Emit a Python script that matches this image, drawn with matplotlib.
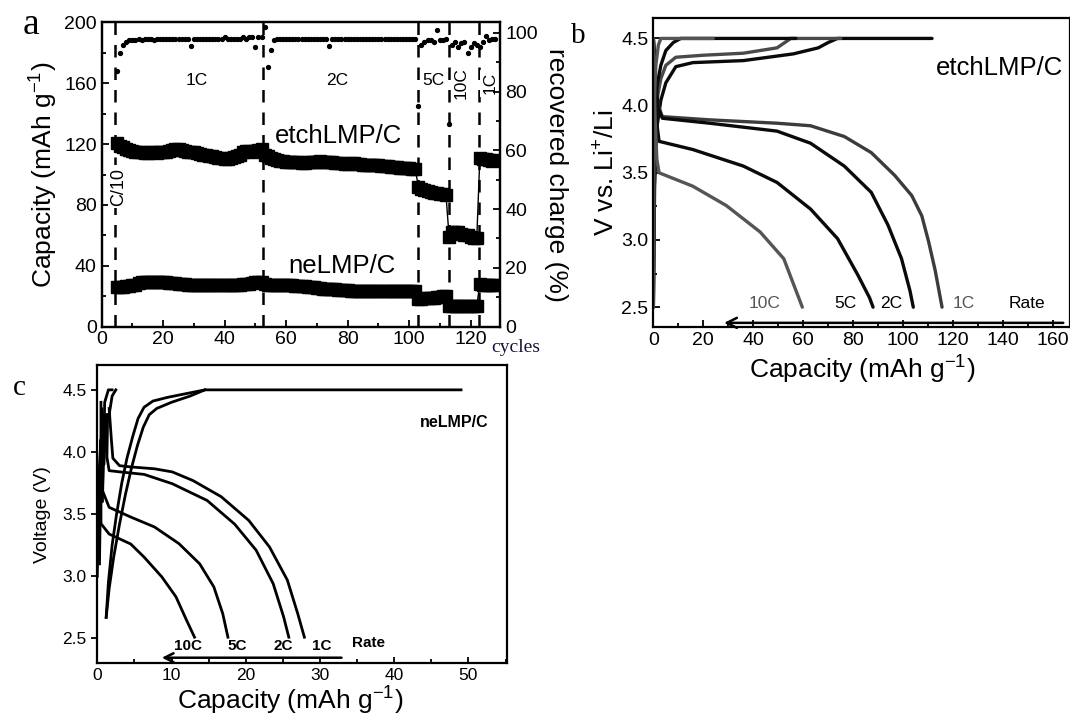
"""Rate capability of etchLMP/C vs neLMP/C: cycling (a) and charge/discharge curves (b, c)."""

import matplotlib

matplotlib.use("Agg")
import matplotlib.pyplot as plt
from matplotlib.ticker import MultipleLocator

plt.rcParams["font.family"] = ["Liberation Sans", "DejaVu Sans"]
plt.rcParams["mathtext.fontset"] = "custom"
plt.rcParams["mathtext.rm"] = "Liberation Sans"

# ---- panel a: capacity and recovered charge per cycle ----
cycles = list(range(5, 129))

etch_cap = [
    # 1C, cycles 5-52
    121, 119, 118, 117, 116, 115.5, 115, 114.5, 114.5, 114,
    114, 114.5, 114.5, 114, 114.5, 115, 115, 115.5, 116, 116.5,
    116.5, 116, 115.5, 115, 114.5, 114.5, 114, 113.5, 113, 113,
    112.5, 112, 111.5, 111, 111, 110.5, 110.5, 111, 111.5, 112,
    113, 114.5, 115.5, 115.5, 115, 115.5, 116, 116.5,
    # 2C, cycles 53-102
    113, 112, 111, 110, 109.5, 109, 109, 108.5, 108.5, 108,
    108, 108, 107.5, 107.5, 108, 108, 108.5, 108.5, 109, 108.5,
    108.5, 108, 108, 107.5, 107.5, 107.5, 107, 107, 107.5, 107.5,
    107, 107, 106.5, 106.5, 106.5, 106, 106, 106, 105.5, 105.5,
    105.5, 105, 105, 105, 104.5, 104.5, 104, 104, 103.5, 103.5,
    # 5C, cycles 103-112
    92, 90.5, 89.5, 89, 88.5, 88, 88, 87.5, 87, 86.5,
    # 10C, cycles 113-122
    59, 62, 62.5, 62, 61, 60.5, 60, 59, 58.5, 58,
    # 1C, cycles 123-128
    111, 110.5, 110, 109.5, 109, 109.5,
]

ne_cap = [
    26, 26, 26, 26.5, 26.5, 27, 27, 28.5, 29.5, 29.5,
    29.5, 29.5, 29, 29, 29, 29, 29, 28.5, 28.5, 28.5,
    28, 28, 28, 27.5, 27.5, 27.5, 27.5, 27, 27, 27,
    27, 27, 27, 27, 27, 27, 27, 27, 27.5, 27.5,
    27.5, 28, 28, 28, 28.5, 29, 29, 29.5,
    28, 27.5, 27.5, 27, 27, 27, 27, 27, 27, 27,
    26.5, 26.5, 26.5, 26.5, 26, 26, 26, 25.5, 25.5, 25,
    25, 24.5, 24.5, 24.5, 24, 24, 24, 24, 23.5, 23.5,
    23.5, 23.5, 23.5, 23.5, 23.5, 23.5, 23.5, 23.5, 23.5, 23.5,
    23.5, 23.5, 23.5, 23.5, 23.5, 23.5, 23.5, 23.5, 23.5, 23.5,
    18, 18, 18.5, 18.5, 19, 19, 19.5, 19.5, 20, 20,
    13.5, 13.5, 13.5, 13.5, 13.5, 13.5, 13.5, 13.5, 13.5, 13.5,
    28, 27.5, 27.5, 27.5, 27.5, 27.5,
]

recovered = [
    87, 93, 96, 97, 97.5, 97.5, 97.5, 98, 97.5, 98,
    98, 98, 97.5, 98, 98, 98, 98, 98, 98, 98,
    98, 98, 98, 98, 95.5, 98, 98, 98, 98, 98,
    98, 98, 98, 98, 98, 98.5, 98, 98, 98, 98,
    98, 98.5, 98, 98.5, 98.5, 95, 98.5, 98.5,
    102, 88.5, 94, 97.5, 98, 98, 98, 98, 98, 98,
    98, 98, 98, 98, 98, 98, 98, 98, 98, 98,
    98, 95.5, 98, 98, 98, 98, 98, 98, 98, 98,
    98, 98, 98, 98, 98, 98, 98, 98, 98, 98,
    98, 98, 98, 98, 98, 98, 98, 98, 98, 98,
    75, 96, 97, 97.5, 97.5, 97, 101, 97.5, 97.5, 98,
    69, 96, 97, 95, 96.5, 97, 93, 95, 96.5, 96,
    95, 97, 99, 97.5, 98, 98,
]

rate_changes = [4.5, 52.5, 102.8, 113, 122.8]

# ---- panel b: etchLMP/C charge/discharge curves ----
b_labels = ["1C", "2C", "5C", "10C"]
b_colors = ["#3c3c3c", "#0a0a0a", "#0a0a0a", "#555555"]
b_dis_x = [
    [0, 1, 2, 3.6, 22.5, 49.5, 62.9, 76.4, 87.2, 96.6, 103.4, 107.4, 110.1, 112.8, 115.5],
    [0, 1, 2, 3.6, 22.5, 49.5, 62.9, 76.4, 87.2, 93.9, 99.3, 102.7, 104],
    [0, 0.8, 1.5, 2.3, 15.8, 36, 49.5, 62.9, 73.7, 81.8, 86.5, 87.9],
    [0, 0.7, 1.4, 2.3, 15.8, 29.2, 42.7, 52.2, 59.6],
]
b_dis_v = [
    [4.5, 4.2, 4.0, 3.918, 3.894, 3.869, 3.85, 3.77, 3.65, 3.48, 3.33, 3.18, 2.99, 2.77, 2.5],
    [4.5, 4.15, 3.98, 3.906, 3.869, 3.81, 3.72, 3.55, 3.354, 3.11, 2.86, 2.62, 2.5],
    [4.5, 4.1, 3.85, 3.734, 3.673, 3.55, 3.428, 3.23, 3.01, 2.74, 2.57, 2.5],
    [4.5, 3.9, 3.6, 3.5, 3.4, 3.256, 3.06, 2.86, 2.5],
]
b_chg_x = [
    [0, 0.5, 1.5, 3, 5, 9, 15.8, 36, 56, 66, 70, 73.7, 111.5],
    [0, 0.5, 1.5, 3, 5, 9, 20, 36, 49.5, 55, 75],
    [0, 0.5, 1.5, 3, 5, 8, 11, 57],
    [0, 0.3, 1, 2, 3, 24],
]
b_chg_v = [
    [2.5, 3.4, 3.85, 4.04, 4.17, 4.29, 4.32, 4.335, 4.385, 4.43, 4.47, 4.5, 4.5],
    [2.5, 3.6, 4.05, 4.2, 4.3, 4.36, 4.375, 4.39, 4.43, 4.5, 4.5],
    [2.5, 3.9, 4.15, 4.3, 4.41, 4.47, 4.5, 4.5],
    [2.5, 4.0, 4.3, 4.45, 4.5, 4.5],
]
b_chg_colors = ["#0a0a0a", "#4a4a4a", "#0a0a0a", "#555555"]
b_label_x = [124.3, 95, 77, 44.6]

# ---- panel c: neLMP/C charge/discharge curves ----
c_labels = ["1C", "2C", "5C", "10C"]
c_dis_x = [
    [1.6, 1.9, 2.1, 3.0, 4.5, 7.7, 10.1, 12.9, 16.7, 20.4, 23.2, 25.6, 27, 27.9],
    [1.4, 1.3, 1.6, 3.05, 6.3, 10.1, 14.8, 18.5, 21.4, 23.7, 25.1, 25.8],
    [0.9, 0.7, 1.6, 4.5, 7.7, 11, 13.8, 15.7, 16.9, 17.6],
    [0.5, 0.5, 1.6, 4.5, 6.3, 8.7, 10.6, 12, 13.1],
]
c_dis_v = [
    [4.35, 4.1, 3.95, 3.89, 3.88, 3.865, 3.84, 3.77, 3.64, 3.45, 3.236, 2.97, 2.70, 2.51],
    [4.3, 3.96, 3.85, 3.84, 3.82, 3.745, 3.61, 3.42, 3.21, 2.94, 2.674, 2.51],
    [4.2, 3.69, 3.555, 3.477, 3.397, 3.263, 3.10, 2.915, 2.70, 2.51],
    [4.4, 3.424, 3.34, 3.26, 3.155, 2.995, 2.835, 2.65, 2.51],
]
c_chg_x = [
    [1.2, 1.5, 2.0, 2.6, 3.3, 4.0, 4.8, 5.5, 6.3, 7.5, 9.5, 12, 14.5, 49],
    [1.2, 1.6, 2.2, 3.0, 3.8, 4.6, 5.4, 6.2, 7.0, 8.0, 10, 12.5, 14.5],
    [0.3, 0.6, 0.9, 1.2, 1.6, 2.0, 2.5],
    [0.0, 0.3, 0.5, 0.7, 1.0, 1.5, 2.0],
]
c_chg_v = [
    [2.67, 2.95, 3.25, 3.5, 3.75, 3.95, 4.13, 4.27, 4.36, 4.41, 4.44, 4.47, 4.5, 4.5],
    [2.67, 2.9, 3.15, 3.42, 3.66, 3.87, 4.05, 4.2, 4.3, 4.35, 4.4, 4.45, 4.5],
    [3.1, 4.35, 3.9, 4.3, 4.3, 4.45, 4.5],
    [3.0, 3.9, 4.1, 3.6, 4.4, 4.5, 4.5],
]
c_label_x = [30.3, 25.1, 18.8, 12.2]

fig = plt.figure(figsize=(10.7, 7.14), dpi=100)
ax_a = fig.add_axes([0.0950, 0.5427, 0.3727, 0.4258])
ax_b = fig.add_axes([0.6106, 0.5416, 0.3894, 0.4328])
ax_c = fig.add_axes([0.0909, 0.0710, 0.3830, 0.4178])

# ---- a ----
for xv in rate_changes:
    ax_a.axvline(xv, color="black", lw=1.8, ls=(0, (5, 4)), zorder=1)
ax_a.plot(cycles, etch_cap, "s-", color="black", ms=8, lw=1, zorder=3)
ax_a.plot(cycles, ne_cap, "s-", color="black", ms=8, lw=1, zorder=3)
ax_a.set_xlim(0, 129.7)
ax_a.set_ylim(0, 200)
ax_a.xaxis.set_major_locator(MultipleLocator(20))
ax_a.xaxis.set_minor_locator(MultipleLocator(10))
ax_a.yaxis.set_major_locator(MultipleLocator(40))
ax_a.yaxis.set_minor_locator(MultipleLocator(20))
ax_a.tick_params(which="both", direction="in", labelsize=14, width=1.3)
ax_a.tick_params(which="major", length=5)
ax_a.tick_params(which="minor", length=3)
ax_a.set_ylabel("Capacity (mAh g$^{-1}$)", fontsize=19, labelpad=4)

ax_a2 = ax_a.twinx()
ax_a2.plot(cycles, recovered, "o", color="black", ms=2.8, zorder=3)
ax_a2.set_ylim(0, 103.5)
ax_a2.yaxis.set_major_locator(MultipleLocator(20))
ax_a2.yaxis.set_minor_locator(MultipleLocator(10))
ax_a2.tick_params(which="both", direction="in", labelsize=14, width=1.3)
ax_a2.tick_params(which="major", length=5)
ax_a2.tick_params(which="minor", length=3)
ax_a2.set_ylabel("recovered charge (%)", fontsize=19, rotation=270, labelpad=22)
for sp in list(ax_a.spines.values()) + list(ax_a2.spines.values()):
    sp.set_linewidth(1.6)

ax_a.text(31, 162, "1C", fontsize=12.5, ha="center", va="center")
ax_a.text(76.7, 162, "2C", fontsize=12.5, ha="center", va="center")
ax_a.text(108, 162, "5C", fontsize=12.5, ha="center", va="center")
box = dict(facecolor="white", edgecolor="none", pad=1.5)
ax_a.text(117, 160, "10C", fontsize=12.5, ha="center", va="center", rotation=90, bbox=box)
ax_a.text(126.3, 160, "1C", fontsize=12.5, ha="center", va="center", rotation=90, bbox=box)
ax_a.text(5.6, 92, "C/10", fontsize=13, ha="center", va="center", rotation=90, bbox=box)
ax_a.text(77, 125, "etchLMP/C", fontsize=18.5, ha="center", va="center")
ax_a.text(78, 40, "neLMP/C", fontsize=18.5, ha="center", va="center")

fig.text(0.021, 0.965, "a", fontsize=27, family="Liberation Serif", va="center", ha="left")
fig.text(0.459, 0.514, "cycles", fontsize=14, family="Liberation Serif", color="#14143c",
         va="center", ha="left")

# ---- b ----
for i in range(len(b_labels)):
    ax_b.plot(b_chg_x[i], b_chg_v[i], color=b_chg_colors[i], lw=2.4, solid_capstyle="round")
    ax_b.plot(b_dis_x[i], b_dis_v[i], color=b_colors[i], lw=2.4, solid_capstyle="round")
    ax_b.text(b_label_x[i], 2.53, b_labels[i], fontsize=12.5, ha="center", va="center",
              color="#555555" if b_labels[i] in ("10C", "1C") else "black")
ax_b.text(149.3, 2.53, "Rate", fontsize=12.5, ha="center", va="center")
ax_b.annotate("", xy=(28.3, 2.383), xytext=(164, 2.383),
              arrowprops=dict(arrowstyle="->", color="black", lw=1.8,
                              mutation_scale=18, shrinkA=0, shrinkB=0))
ax_b.text(113, 4.28, "etchLMP/C", fontsize=18.5, ha="left", va="center")
ax_b.set_xlim(0, 166.7)
ax_b.set_ylim(2.35, 4.65)
ax_b.xaxis.set_major_locator(MultipleLocator(20))
ax_b.xaxis.set_minor_locator(MultipleLocator(10))
ax_b.yaxis.set_major_locator(MultipleLocator(0.5))
ax_b.yaxis.set_minor_locator(MultipleLocator(0.25))
ax_b.tick_params(which="both", direction="in", labelsize=14, width=1.3)
ax_b.tick_params(which="major", length=5)
ax_b.tick_params(which="minor", length=3)
ax_b.set_xlabel("Capacity (mAh g$^{-1}$)", fontsize=19, labelpad=2)
ax_b.set_ylabel("V vs. Li$^{+}$/Li", fontsize=19, labelpad=2)
for sp in ax_b.spines.values():
    sp.set_linewidth(1.6)
fig.text(0.534, 0.950, "b", fontsize=21, family="Liberation Serif", va="center", ha="left")

# ---- c ----
for i in range(len(c_labels)):
    ax_c.plot(c_chg_x[i], c_chg_v[i], color="black", lw=2)
    ax_c.plot(c_dis_x[i], c_dis_v[i], color="black", lw=2)
    ax_c.text(c_label_x[i], 2.44, c_labels[i], fontsize=11, fontweight="bold",
              ha="center", va="center")
ax_c.text(36.6, 2.46, "Rate", fontsize=11, fontweight="bold", ha="center", va="center")
ax_c.annotate("", xy=(8.7, 2.345), xytext=(32.9, 2.345),
              arrowprops=dict(arrowstyle="->", color="black", lw=1.8,
                              mutation_scale=16, shrinkA=0, shrinkB=0))
ax_c.text(48.1, 4.24, "neLMP/C", fontsize=11.5, fontweight="bold", ha="center", va="center")
ax_c.set_xlim(0, 55.2)
ax_c.set_ylim(2.3, 4.7)
ax_c.xaxis.set_major_locator(MultipleLocator(10))
ax_c.xaxis.set_minor_locator(MultipleLocator(5))
ax_c.yaxis.set_major_locator(MultipleLocator(0.5))
ax_c.tick_params(axis="x", which="both", direction="in")
ax_c.tick_params(axis="y", which="both", direction="out")
ax_c.tick_params(which="both", labelsize=12.5, width=1.3)
ax_c.tick_params(which="major", length=4)
ax_c.tick_params(which="minor", length=3)
ax_c.set_xlabel("Capacity (mAh g$^{-1}$)", fontsize=19, labelpad=0)
ax_c.xaxis.set_label_coords(0.47, -0.065, transform=ax_c.transAxes)
ax_c.xaxis.label.set_va("top")
ax_c.set_ylabel("Voltage (V)", fontsize=14, labelpad=8)
for sp in ax_c.spines.values():
    sp.set_linewidth(1.6)
fig.text(0.012, 0.457, "c", fontsize=21, family="Liberation Serif", va="center", ha="left")

fig.savefig("out.png", dpi=100)
